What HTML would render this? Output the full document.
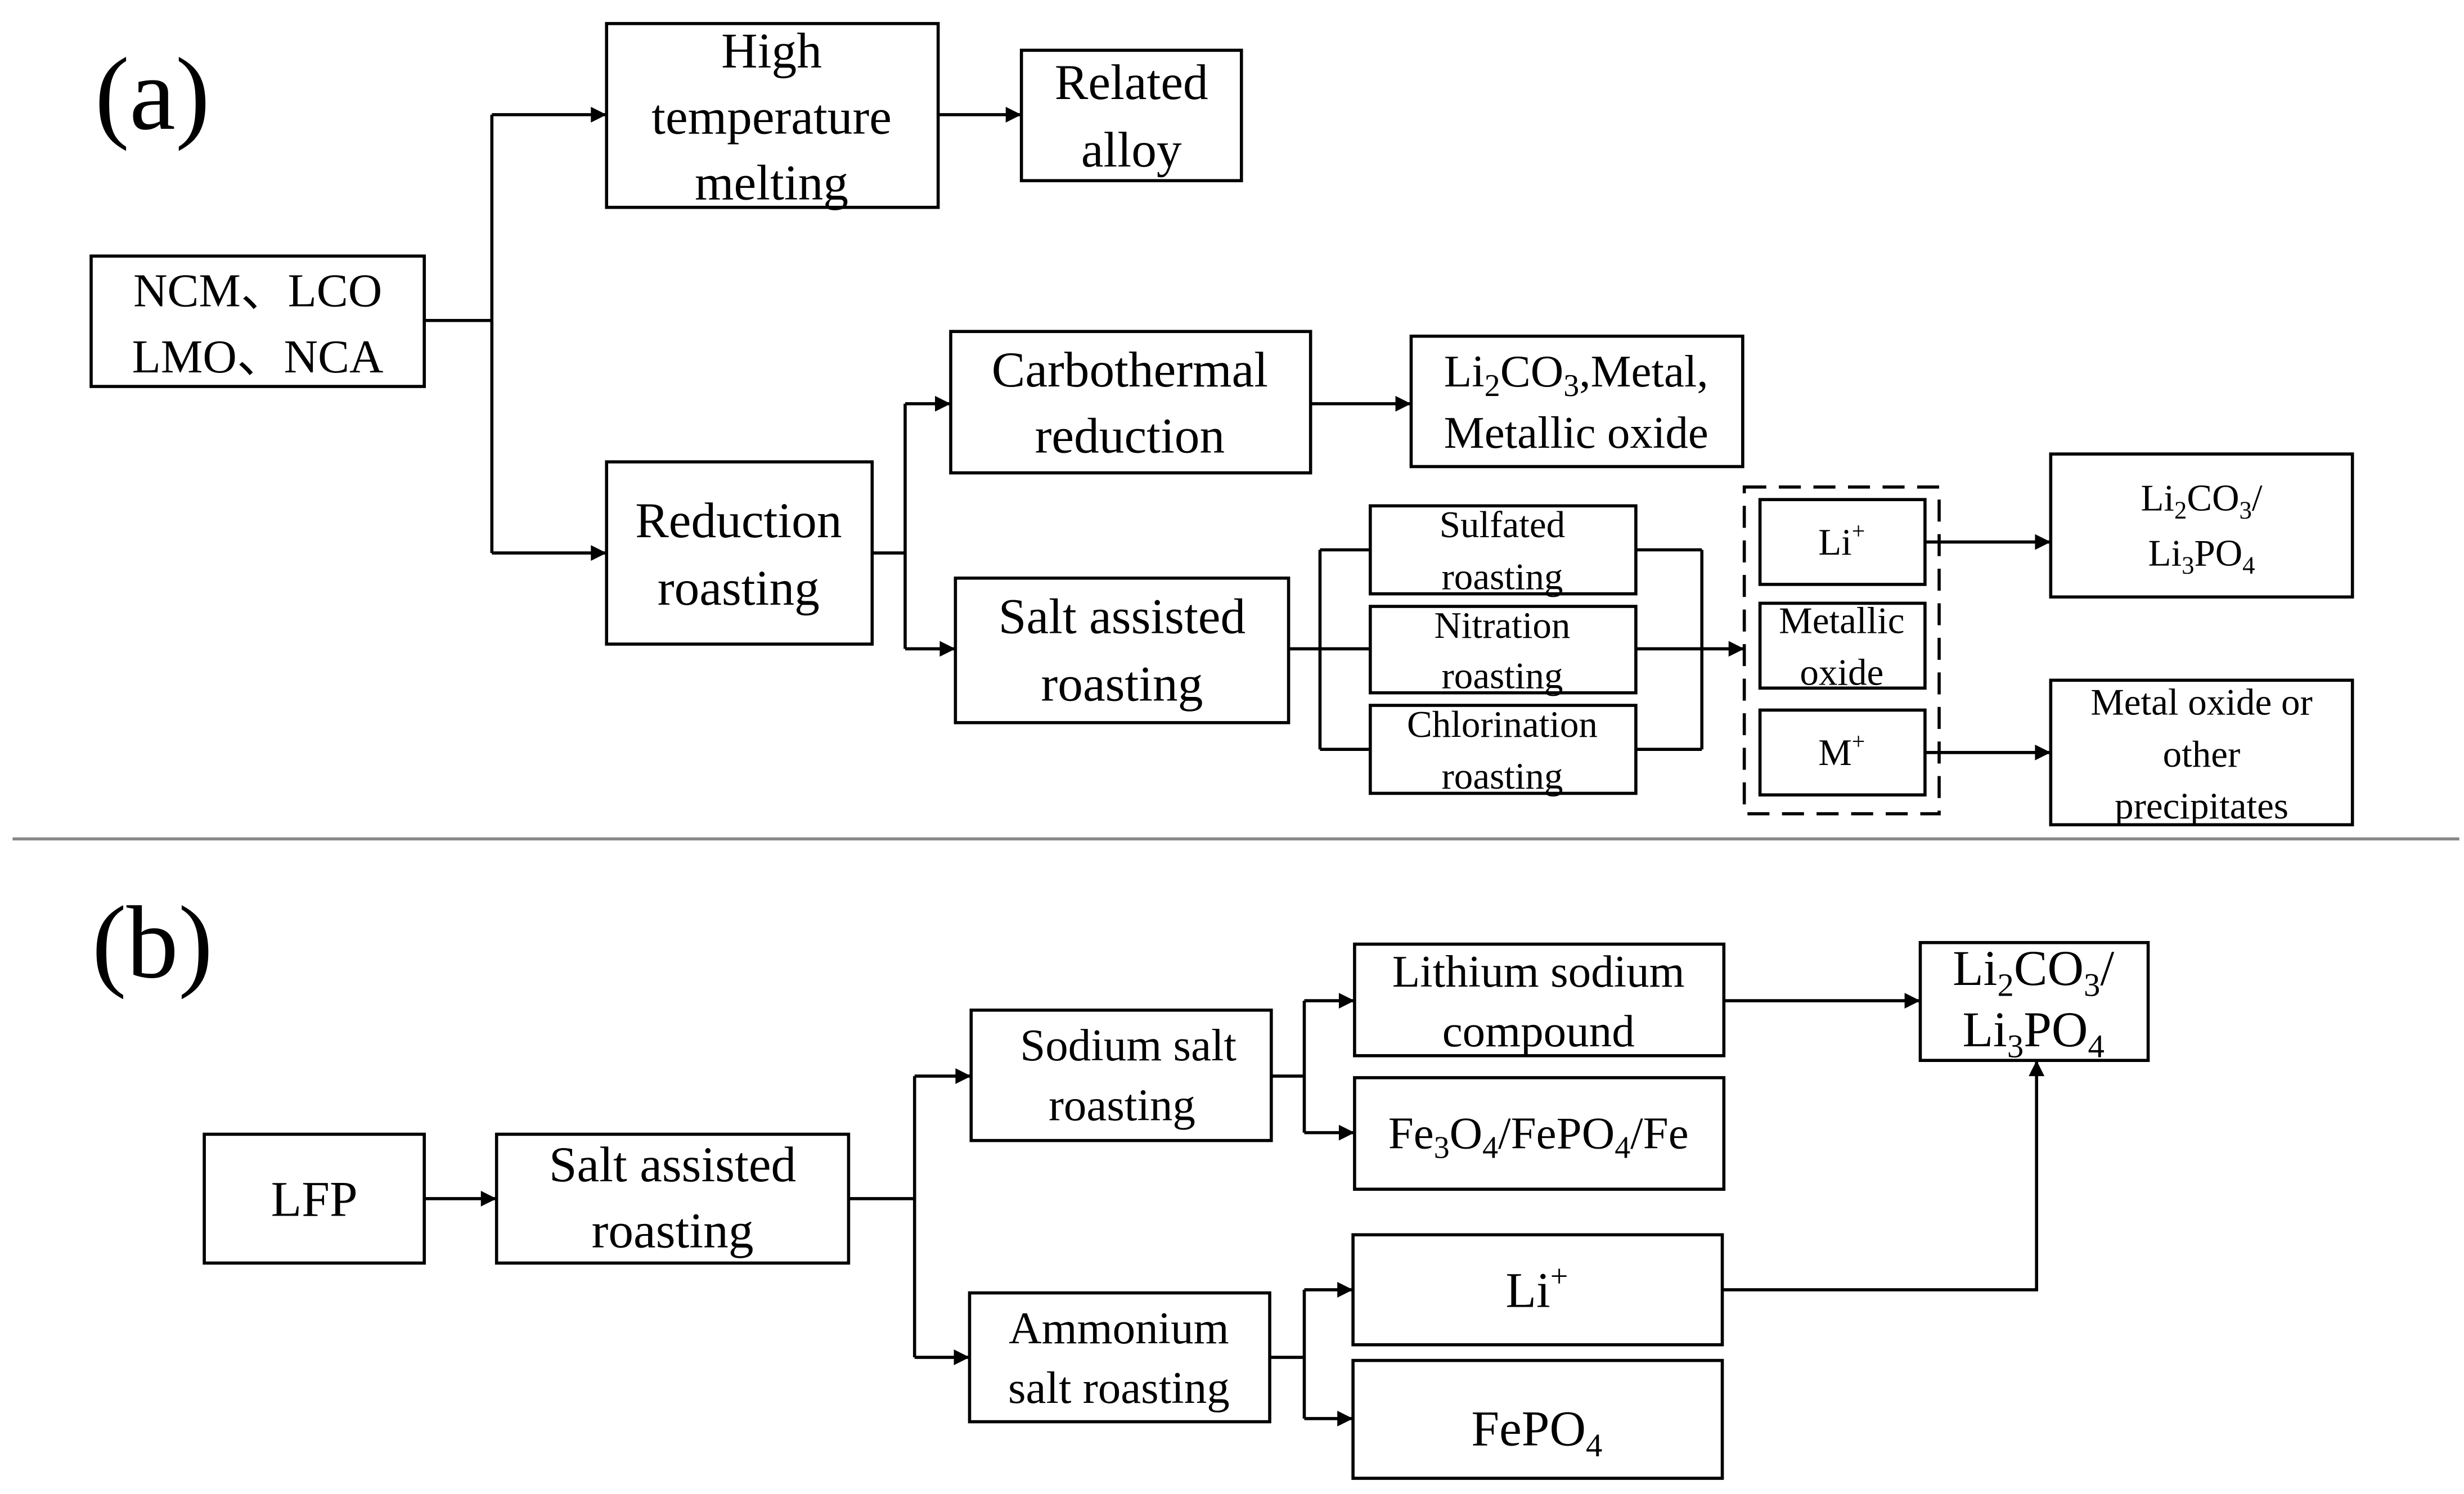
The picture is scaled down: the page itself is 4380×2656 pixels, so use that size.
<!DOCTYPE html>
<html><head><meta charset="utf-8"><style>
html,body{margin:0;padding:0;background:#fff;}
svg{display:block;}
text{font-family:"Liberation Serif",serif;fill:#000;}
</style></head><body>
<svg width="4380" height="2656" viewBox="0 0 1568 951" preserveAspectRatio="none" xmlns="http://www.w3.org/2000/svg">
<defs><marker id="a" viewBox="0 0 10 10" refX="10" refY="5" markerWidth="6" markerHeight="6" markerUnits="userSpaceOnUse" orient="auto"><path d="M0,0 L10,5 L0,10 z" fill="#000"/></marker>
<marker id="m" viewBox="0 0 10 10" refX="10" refY="5" markerWidth="12" markerHeight="10" markerUnits="userSpaceOnUse" orient="auto"><path d="M0,0 L10,5 L0,10 z" fill="#000"/></marker></defs>
<rect width="1568" height="951" fill="#fff"/>
<g fill="none" stroke="#000" stroke-width="2">
<rect x="58" y="163" width="212" height="83"/>
<rect x="386" y="15" width="211" height="117"/>
<rect x="650" y="32" width="140" height="83"/>
<rect x="386" y="294" width="169" height="116"/>
<rect x="605" y="211" width="229" height="90"/>
<rect x="898" y="214" width="211" height="83"/>
<rect x="608" y="368" width="212" height="92"/>
<rect x="872" y="322" width="169" height="56"/>
<rect x="872" y="386" width="169" height="55"/>
<rect x="872" y="449" width="169" height="56"/>
<rect x="1110" y="310" width="124" height="208" stroke-dasharray="14,8"/>
<rect x="1120" y="318" width="105" height="54"/>
<rect x="1120" y="384" width="105" height="54"/>
<rect x="1120" y="452" width="105" height="54"/>
<rect x="1305" y="289" width="192" height="91"/>
<rect x="1305" y="433" width="192" height="92"/>
<rect x="130" y="722" width="140" height="82"/>
<rect x="316" y="722" width="224" height="82"/>
<rect x="618" y="643" width="191" height="83"/>
<rect x="617" y="823" width="191" height="82"/>
<rect x="862" y="601" width="235" height="71"/>
<rect x="862" y="686" width="235" height="71"/>
<rect x="861" y="786" width="235" height="70"/>
<rect x="861" y="866" width="235" height="75"/>
<rect x="1222" y="600" width="145" height="75"/>
</g>
<line x1="8" y1="534" x2="1565" y2="534" stroke="#888" stroke-width="2"/>
<g fill="none" stroke="#000" stroke-width="2">
<polyline points="270,204 313,204"/><line x1="313" y1="73" x2="313" y2="352"/>
<line x1="313" y1="73" x2="386" y2="73" marker-end="url(#m)"/>
<line x1="313" y1="352" x2="386" y2="352" marker-end="url(#m)"/>
<line x1="597" y1="73" x2="650" y2="73" marker-end="url(#m)"/>
<line x1="555" y1="352" x2="576" y2="352"/><line x1="576" y1="257" x2="576" y2="413"/>
<line x1="576" y1="257" x2="605" y2="257" marker-end="url(#m)"/>
<line x1="576" y1="413" x2="608" y2="413" marker-end="url(#m)"/>
<line x1="834" y1="257" x2="898" y2="257" marker-end="url(#m)"/>
<line x1="820" y1="413" x2="872" y2="413"/><line x1="840" y1="350" x2="840" y2="477"/>
<line x1="840" y1="350" x2="872" y2="350"/><line x1="840" y1="477" x2="872" y2="477"/>
<line x1="1041" y1="350" x2="1083" y2="350"/><line x1="1041" y1="477" x2="1083" y2="477"/>
<line x1="1083" y1="350" x2="1083" y2="477"/>
<line x1="1041" y1="413" x2="1110" y2="413" marker-end="url(#m)"/>
<line x1="1225" y1="345" x2="1305" y2="345" marker-end="url(#m)"/>
<line x1="1225" y1="479" x2="1305" y2="479" marker-end="url(#m)"/>
<line x1="270" y1="763" x2="316" y2="763" marker-end="url(#m)"/>
<line x1="540" y1="763" x2="582" y2="763"/><line x1="582" y1="685" x2="582" y2="864"/>
<line x1="582" y1="685" x2="618" y2="685" marker-end="url(#m)"/>
<line x1="582" y1="864" x2="617" y2="864" marker-end="url(#m)"/>
<line x1="809" y1="685" x2="830" y2="685"/><line x1="830" y1="637" x2="830" y2="721"/>
<line x1="830" y1="637" x2="862" y2="637" marker-end="url(#m)"/>
<line x1="830" y1="721" x2="862" y2="721" marker-end="url(#m)"/>
<line x1="808" y1="864" x2="830" y2="864"/><line x1="830" y1="821" x2="830" y2="903"/>
<line x1="830" y1="821" x2="861" y2="821" marker-end="url(#m)"/>
<line x1="830" y1="903" x2="861" y2="903" marker-end="url(#m)"/>
<line x1="1097" y1="637" x2="1222" y2="637" marker-end="url(#m)"/>
<polyline points="1096,821 1296,821 1296,675" marker-end="url(#m)"/>
</g>
<g text-anchor="middle">
<text x="97" y="82" font-size="66">(a)</text>
<text x="97" y="622" font-size="66">(b)</text>
<g font-size="30">
<text x="164" y="195">NCM、LCO</text><text x="164" y="237">LMO、NCA</text>
</g>
<g font-size="32">
<text x="491" y="43">High</text><text x="491" y="85">temperature</text><text x="491" y="127">melting</text>
<text x="720" y="63">Related</text><text x="720" y="106">alloy</text>
<text x="470" y="342">Reduction</text><text x="470" y="385">roasting</text>
<text x="719" y="246">Carbothermal</text><text x="719" y="288">reduction</text>
<text x="714" y="403">Salt assisted</text><text x="714" y="446">roasting</text>
</g>
<g font-size="29">
<text x="1003" y="246">Li<tspan font-size="20" dy="6">2</tspan><tspan dy="-6">CO</tspan><tspan font-size="20" dy="6">3</tspan><tspan dy="-6">,Metal,</tspan></text>
<text x="1003" y="285">Metallic oxide</text>
</g>
<g font-size="24">
<text x="956" y="342">Sulfated</text><text x="956" y="375">roasting</text>
<text x="956" y="406">Nitration</text><text x="956" y="438">roasting</text>
<text x="956" y="469">Chlorination</text><text x="956" y="502">roasting</text>
<text x="1172" y="353">Li<tspan font-size="15" dy="-10">+</tspan></text>
<text x="1172" y="403">Metallic</text><text x="1172" y="436">oxide</text>
<text x="1172" y="487">M<tspan font-size="15" dy="-10">+</tspan></text>
<text x="1401" y="325">Li<tspan font-size="16" dy="5">2</tspan><tspan dy="-5">CO</tspan><tspan font-size="16" dy="5">3</tspan><tspan dy="-5">/</tspan></text>
<text x="1401" y="360">Li<tspan font-size="16" dy="5">3</tspan><tspan dy="-5">PO</tspan><tspan font-size="16" dy="5">4</tspan></text>
<text x="1401" y="455">Metal oxide or</text><text x="1401" y="488">other</text><text x="1401" y="521">precipitates</text>
</g>
<g font-size="32">
<text x="200" y="774">LFP</text>
<text x="428" y="752">Salt assisted</text><text x="428" y="794">roasting</text>
</g>
<g font-size="29">
<text x="718" y="675">Sodium salt</text><text x="714" y="713">roasting</text>
<text x="712" y="855">Ammonium</text><text x="712" y="893">salt roasting</text>
<text x="979" y="628">Lithium sodium</text><text x="979" y="666">compound</text>
<text x="979" y="731">Fe<tspan font-size="20" dy="6">3</tspan><tspan dy="-6">O</tspan><tspan font-size="20" dy="6">4</tspan><tspan dy="-6">/FePO</tspan><tspan font-size="20" dy="6">4</tspan><tspan dy="-6">/Fe</tspan></text>
</g>
<g font-size="32">
<text x="978" y="832">Li<tspan font-size="20" dy="-13">+</tspan></text>
<text x="978" y="920">FePO<tspan font-size="21" dy="7">4</tspan></text>
<text x="1294" y="627">Li<tspan font-size="21" dy="7">2</tspan><tspan dy="-7">CO</tspan><tspan font-size="21" dy="7">3</tspan><tspan dy="-7">/</tspan></text>
<text x="1294" y="666">Li<tspan font-size="21" dy="7">3</tspan><tspan dy="-7">PO</tspan><tspan font-size="21" dy="7">4</tspan></text>
</g>
</g>
</svg>
</body></html>
